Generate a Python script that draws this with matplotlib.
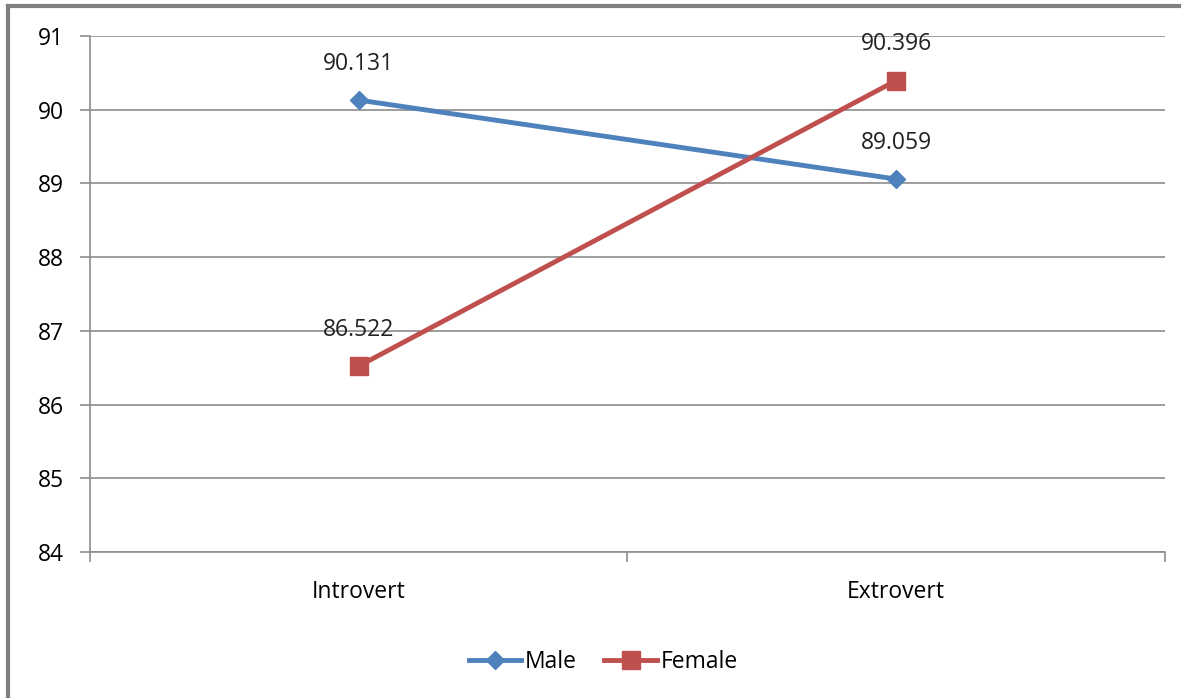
import numpy as np
import matplotlib.pyplot as plt
from matplotlib.lines import Line2D

# Datos
categorias = ['Introvert', 'Extrovert']
male = [90.131, 89.059]
female = [86.522, 90.396]
yticks = [84, 85, 86, 87, 88, 89, 90, 91]

azul = '#4F81BD'
rojo = '#C0504D'
gris = '#8C8C8C'
fs = 16.5

plt.rcParams['font.family'] = ['Open Sans', 'DejaVu Sans']

fig = plt.figure(figsize=(11.85, 6.98), dpi=100)
ax = fig.add_axes([0.0759, 0.2092, 0.9072, 0.7392])

x = np.arange(len(categorias)) + 0.5
ax.plot(x, male, color=azul, lw=3.5, marker='D', ms=9, label='Male', zorder=3)
ax.plot(x, female, color=rojo, lw=3.5, marker='s', ms=13, label='Female', zorder=3)

for xi, v in zip(x, male):
    ax.annotate(f'{v:.3f}', (xi, v), xytext=(0, 26), textcoords='offset points',
                ha='center', va='center', fontsize=fs, color='#222222')
for xi, v in zip(x, female):
    ax.annotate(f'{v:.3f}', (xi, v), xytext=(0, 26), textcoords='offset points',
                ha='center', va='center', fontsize=fs, color='#222222')

ax.set_xlim(0, 2)
ax.set_ylim(84, 91)
ax.set_yticks(yticks)
ax.set_xticks([0, 1, 2])
ax.set_xticklabels([])
ax.set_xticks(x, minor=True)
ax.set_xticklabels(categorias, minor=True)
ax.tick_params(axis='x', which='minor', length=0, pad=20, labelsize=fs)
ax.tick_params(axis='x', which='major', length=7, color=gris, width=1.2)
ax.tick_params(axis='y', length=7, color=gris, width=1.2, labelsize=fs, pad=12)
ax.grid(axis='y', color=gris, lw=1.2)
ax.set_axisbelow(True)
for s in ['top', 'right']:
    ax.spines[s].set_visible(False)
for s in ['left', 'bottom']:
    ax.spines[s].set_color(gris)
    ax.spines[s].set_linewidth(1.2)

handles = [Line2D([], [], color=azul, lw=3.5, marker='D', ms=9),
           Line2D([], [], color=rojo, lw=3.5, marker='s', ms=13)]
fig.legend(handles, ['Male', 'Female'], loc='center', bbox_to_anchor=(0.509, 0.052),
           ncol=2, frameon=False, fontsize=fs, handlelength=2.3, handletextpad=0.15,
           columnspacing=1.2)

# Marco de la figura
fig.add_artist(Line2D([0.007, 0.007], [0, 0.992], color='#7F7F7F', lw=3, transform=fig.transFigure))
fig.add_artist(Line2D([0.007, 0.995], [0.992, 0.992], color='#7F7F7F', lw=3, transform=fig.transFigure))

fig.savefig('out.png', dpi=100)
